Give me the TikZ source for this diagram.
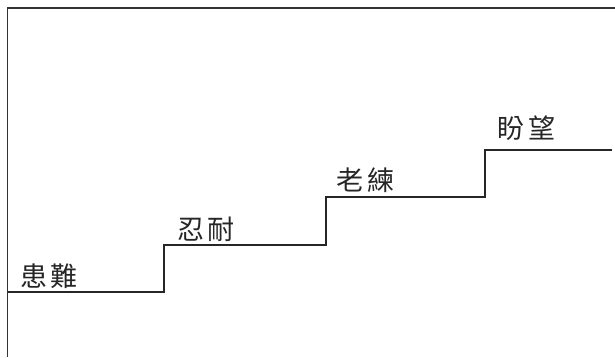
\documentclass[tikz,border=0pt]{standalone}
\usepackage{fontspec}
\newfontfamily\cjk{Noto Sans CJK TC}
\begin{document}
\begin{tikzpicture}[x=1pt,y=1pt,
  lbl/.style={font=\cjk\fontsize{27}{30}\selectfont, text=black!85, inner sep=0pt},
  frameline/.style={draw=black!80, line width=1.3pt},
  stairline/.style={draw=black!85, line width=2.8pt, line join=miter}]
\useasboundingbox (0,0) rectangle (615,357);
\draw[frameline] (7.5,0) -- (7.5,349) -- (615,349);
\draw[stairline] (7.5,65) -- (164,65) -- (164,112) -- (326,112) -- (326,160) -- (485,160) -- (485,207) -- (612,207);
\node[lbl] (s1) at (49,81) {患\hspace{4pt}難};
\node[lbl] (s2) at (206,128) {忍\hspace{4pt}耐};
\node[lbl] (s3) at (365,177) {老\hspace{4pt}練};
\node[lbl] (s4) at (526,229) {盼\hspace{4pt}望};
\end{tikzpicture}
\end{document}
